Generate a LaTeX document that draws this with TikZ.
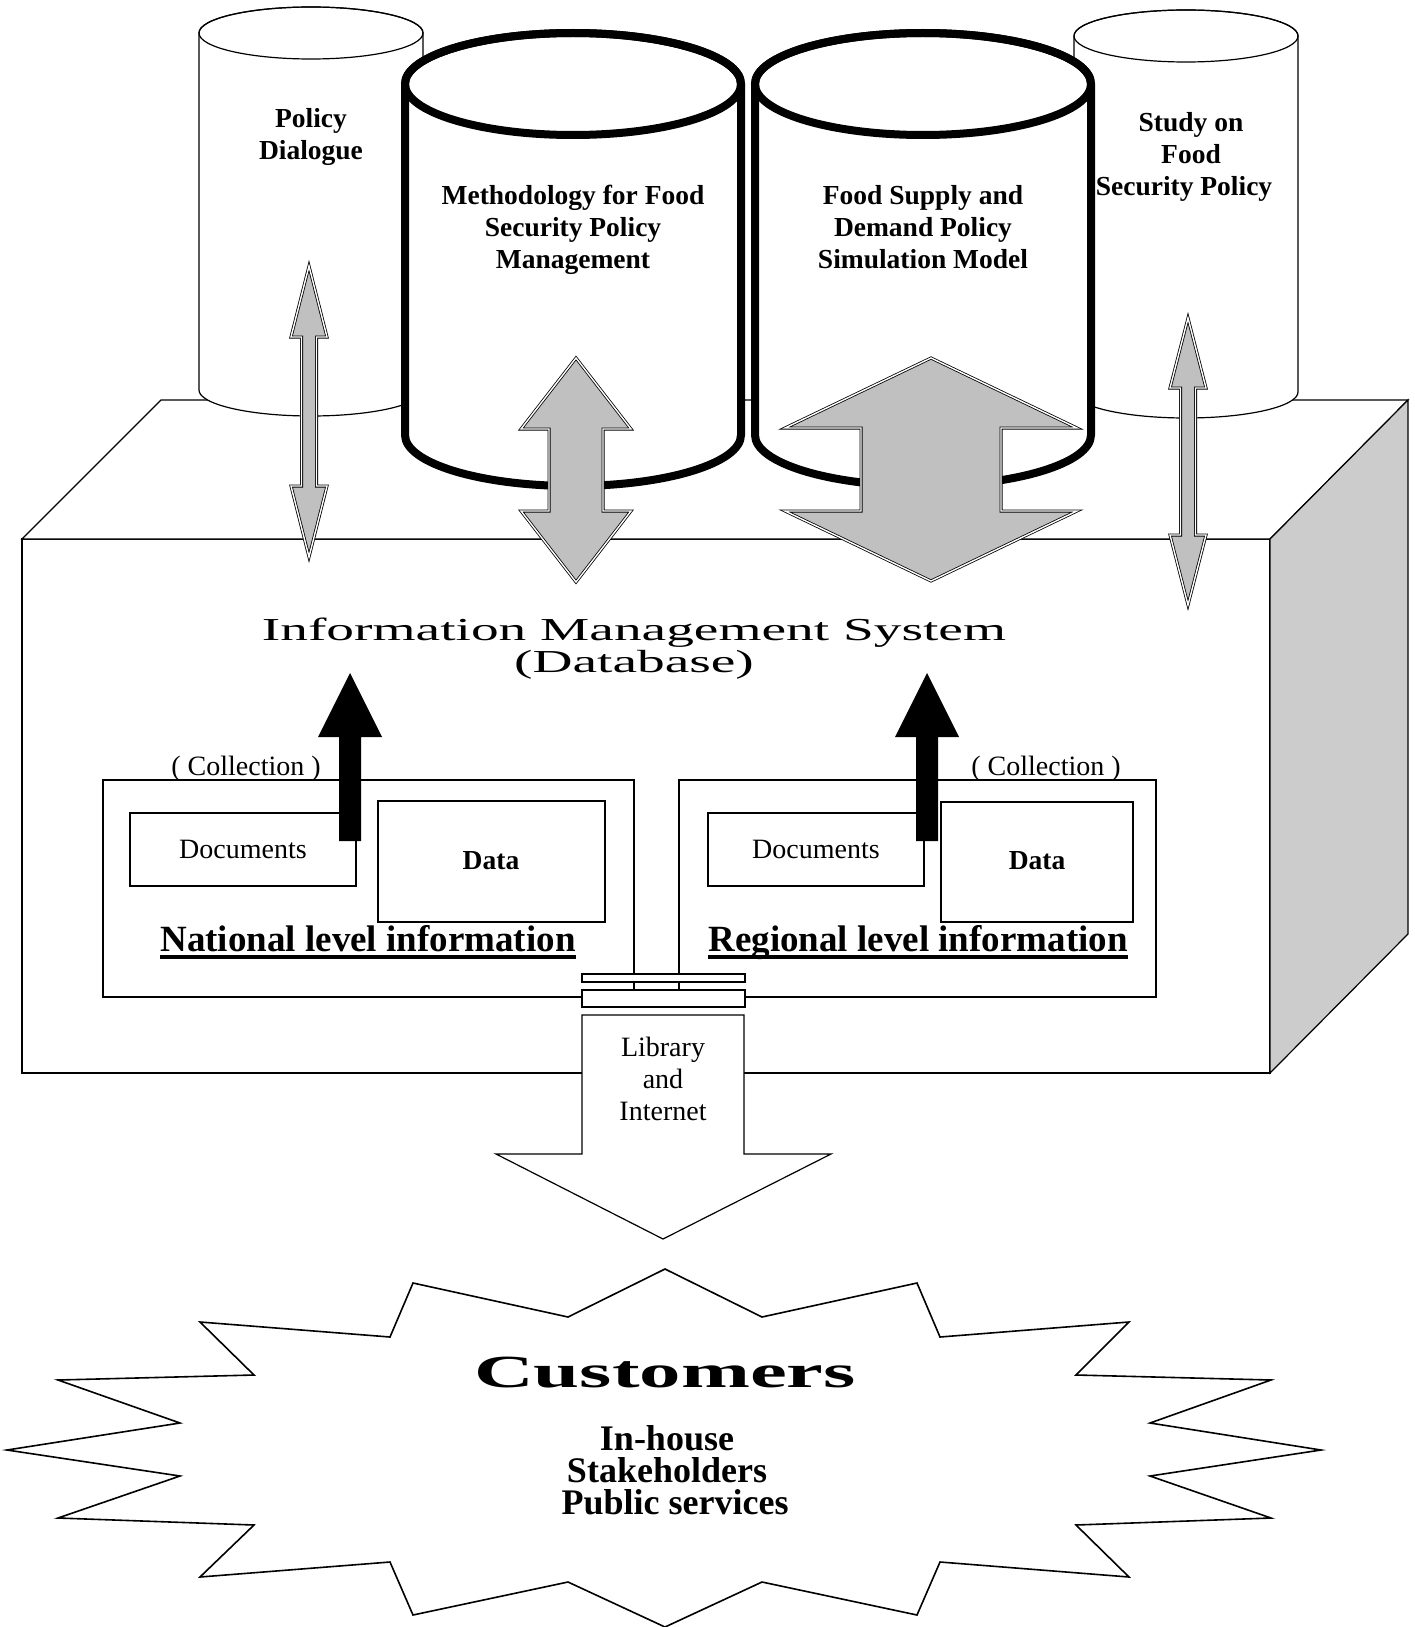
\documentclass[tikz,border=0pt]{standalone}
\usepackage{fontspec}
\setmainfont{Liberation Serif}
\newfontfamily\widefont[FakeStretch=1.73]{Liberation Serif}
\newfontfamily\widerfont[FakeStretch=1.8]{Liberation Serif}
\definecolor{arrowgray}{HTML}{C0C0C0}
\definecolor{sidegray}{HTML}{CCCCCC}

% heavy underline
\newcommand{\thickul}[1]{\setbox0\hbox{#1}\rlap{\rule[-3.8pt]{\wd0}{1.8pt}}\box0}
% drum: cx, rx, top y, bottom y, ry, line style
\newcommand{\drum}[6]{%
  \path[#6, fill=white] ({#1-#2},#3) -- ({#1-#2},#4)
    arc[start angle=180, end angle=0, x radius=#2, y radius=#5]
    -- ({#1+#2},#3) arc[start angle=0, end angle=-180, x radius=#2, y radius=#5] -- cycle;
  \draw[#6] (#1,#3) ellipse[x radius=#2, y radius=#5];}
% two-way arrow: cx, top tip, bottom tip, head length, shaft half, head half
\newcommand{\twowayarrow}[6]{%
  \draw[twoway] (#1,#2) -- ({#1+#6},{#2+#4}) -- ({#1+#5},{#2+#4})
    -- ({#1+#5},{#3-#4}) -- ({#1+#6},{#3-#4}) -- (#1,#3)
    -- ({#1-#6},{#3-#4}) -- ({#1-#5},{#3-#4}) -- ({#1-#5},{#2+#4})
    -- ({#1-#6},{#2+#4}) -- cycle;}
% collection arrow: cx
\newcommand{\collectarrow}[1]{%
  \fill[black] ({#1-11},841) -- ({#1-11},737) -- ({#1-32},737) -- (#1,673)
    -- ({#1+32},737) -- ({#1+11},737) -- ({#1+11},841) -- cycle;}

\begin{document}
\begin{tikzpicture}[x=0.5pt, y=-0.5pt,
  outline/.style={draw=black, line width=0.6pt},
  heavy/.style={draw=black, line width=4pt},
  twoway/.style={fill=arrowgray, draw=black, line width=0.4pt,
    double=white, double distance=0.7pt},
  boldlabel/.style={font=\fontsize{13.75}{16}\selectfont\bfseries,
    align=center, inner sep=0pt},
  plainlabel/.style={font=\fontsize{14}{16}\selectfont, align=center,
    inner sep=0pt},
  levellabel/.style={font=\fontsize{18.5}{20}\selectfont\bfseries,
    inner sep=0pt, anchor=base},
]
  \useasboundingbox (0,0) rectangle (1414,1627);

  % database block
  \draw[outline, fill=white] (22,539) rectangle (1270,1073);
  \draw[outline, fill=white] (22,539) -- (161,400) -- (1408,400)
    -- (1270,539) -- cycle;
  \draw[outline, fill=sidegray] (1270,539) -- (1408,400) -- (1408,934)
    -- (1270,1073) -- cycle;

  % outer drums
  \drum{311}{112}{33}{390}{26}{outline}
  \node[boldlabel] (policy-text) at (311,137) {Policy\\Dialogue};
  \drum{1186}{112}{36}{392}{26}{outline}
  \node[boldlabel] (study-text) at (1191,157)
    {Study on\\Food\\Security Policy\hspace*{7pt}};

  % inner drums
  \drum{573}{168}{84}{435}{51}{heavy}
  \node[boldlabel] (method-text) at (573,230)
    {Methodology for Food\\Security Policy\\Management};
  \drum{923}{168}{84}{435}{51}{heavy}
  \node[boldlabel] (model-text) at (923,227)
    {Food Supply and\\Demand Policy\\Simulation Model};

  % exchange arrows
  \twowayarrow{309}{266}{557}{71}{7.5}{18}
  \twowayarrow{1188}{318}{605}{70}{7.5}{18}
  \twowayarrow{576}{358}{582}{71}{27}{55}
  \twowayarrow{931}{358}{581}{70}{70}{146}

  \node[font=\widefont\fontsize{16}{16}\selectfont, align=center, inner sep=0pt]
    (ims-text) at (634,649) {Information Management System\\(Database)};

  % national level
  \draw[outline] (103,780) rectangle (634,997);
  \draw[outline] (130,813) rectangle (356,886);
  \draw[outline] (378,801) rectangle (605,922);
  \node[plainlabel] (national-docs) at (243,849) {Documents};
  \node[boldlabel] (national-data) at (491,861) {Data};
  \node[plainlabel] (national-collect) at (246,769) {( Collection )};
  \node[levellabel] (national-text) at (368,951) {\thickul{National level information}};
  \collectarrow{350}

  % regional level
  \draw[outline] (679,780) rectangle (1156,997);
  \draw[outline] (708,813) rectangle (924,886);
  \draw[outline] (941,802) rectangle (1133,922);
  \node[plainlabel] (regional-docs) at (816,849) {Documents};
  \node[boldlabel] (regional-data) at (1037,861) {Data};
  \node[plainlabel] (regional-collect) at (1046,769) {( Collection )};
  \node[levellabel] (regional-text) at (918,951) {\thickul{Regional level information}};
  \collectarrow{927}

  % outlet
  \draw[outline, fill=white] (582,974) rectangle (745,982);
  \draw[outline, fill=white] (582,990) rectangle (745,1007);
  \draw[outline, fill=white] (582,1015) -- (582,1154) -- (496,1154)
    -- (663,1239) -- (831,1154) -- (744,1154) -- (744,1015) -- cycle;
  \node[plainlabel] (library-text) at (663,1079) {Library\\and\\Internet};

  % customers
  \draw[outline, line width=0.8pt, fill=white] (665,1269) -- (762,1317)
    -- (917,1283) -- (940,1337) -- (1129,1322) -- (1076,1375) -- (1271,1380)
    -- (1150,1423) -- (1321,1450) -- (1150,1476) -- (1271,1518)
    -- (1076,1525) -- (1129,1577) -- (940,1562) -- (917,1615) -- (762,1582)
    -- (665,1627) -- (568,1582) -- (413,1615) -- (390,1562) -- (200,1577)
    -- (254,1525) -- (58,1518) -- (180,1476) -- (7,1450) -- (180,1423)
    -- (58,1380) -- (254,1375) -- (200,1322) -- (390,1337) -- (413,1283)
    -- (568,1317) -- cycle;
  \node[font=\widerfont\bfseries\fontsize{23}{23}\selectfont, inner sep=0pt]
    (customers-title) at (665,1373) {Customers};
  \node[font=\bfseries\fontsize{18}{16}\selectfont, align=center, inner sep=0pt]
    (customers-list) at (667,1470)
    {In-house\\Stakeholders\\\hspace*{8pt}Public services};
\end{tikzpicture}
\end{document}
